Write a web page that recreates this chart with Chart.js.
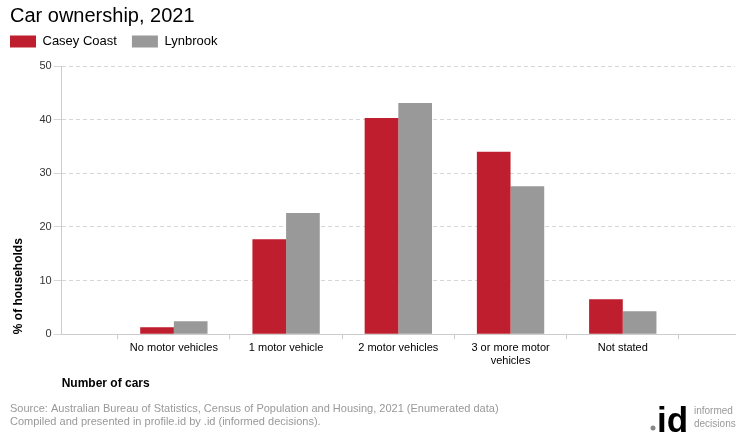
<!DOCTYPE html>
<html><head><meta charset="utf-8">
<script src="https://cdn.jsdelivr.net/npm/chart.js@4/dist/chart.umd.min.js"></script>
<style>html,body{margin:0;padding:0;background:#fff}#wrap{width:740px;height:440px;position:relative}</style>
</head><body><div id="wrap"><canvas id="c" width="740" height="440"></canvas></div>
<script>
const categories = ["", "No motor vehicles", "1 motor vehicle", "2 motor vehicles", ["3 or more motor", "vehicles"], "Not stated", ""];
const caseyCoast = [null, 1.3, 17.7, 40.3, 34.0, 6.5, null];
const lynbrook = [null, 2.4, 22.6, 43.1, 27.6, 4.3, null];
const yTicks = [0, 10, 20, 30, 40, 50];

const FONT = "'Liberation Sans', Arial, sans-serif";

const footer = {
  id: 'footer',
  beforeDraw(chart) {
    // fine placement of the legend row
    if (chart.legend && !chart.legend._moved) {
      chart.legend.left -= 15;
      chart.legend.top -= 8;
      chart.legend._moved = true;
    }
  },
  afterDraw(chart) {
    const ctx = chart.ctx;
    ctx.save();
    ctx.textBaseline = 'alphabetic';
    ctx.textAlign = 'left';
    ctx.fillStyle = '#999';
    ctx.font = "11px " + FONT;
    ctx.fillText("Source: Australian Bureau of Statistics, Census of Population and Housing, 2021 (Enumerated data)", 10, 412);
    ctx.fillText("Compiled and presented in profile.id by .id (informed decisions).", 10, 425);
    ctx.fillStyle = '#888';
    ctx.beginPath(); ctx.arc(653, 428, 2.5, 0, Math.PI * 2); ctx.fill();
    ctx.fillStyle = '#000';
    ctx.font = "bold 35px " + FONT;
    ctx.fillText("id", 657, 432);
    ctx.fillStyle = '#999';
    ctx.font = "10px " + FONT;
    ctx.fillText("informed", 694, 414);
    ctx.fillText("decisions", 694, 427);
    ctx.restore();
  }
};

new Chart(document.getElementById('c'), {
  type: 'bar',
  data: {
    labels: categories,
    datasets: [
      { label: 'Casey Coast', data: caseyCoast, backgroundColor: '#BE1E2D', borderWidth: 0 },
      { label: 'Lynbrook', data: lynbrook, backgroundColor: '#999999', borderWidth: 0 }
    ]
  },
  options: {
    responsive: false,
    animation: false,
    devicePixelRatio: 1,
    layout: { padding: { left: 10, right: 5, top: 3, bottom: 49 } },
    datasets: { bar: { barPercentage: 1, categoryPercentage: 0.6 } },
    plugins: {
      tooltip: { enabled: false },
      title: {
        display: true, text: 'Car ownership, 2021', align: 'start', color: '#000',
        font: { family: FONT, size: 20, weight: 'normal' }, padding: { top: 1, bottom: 0 }
      },
      legend: {
        display: true, align: 'start',
        labels: {
          boxWidth: 26, boxHeight: 12, color: '#000', padding: 15,
          font: { family: FONT, size: 13 }
        }
      }
    },
    scales: {
      x: {
        offset: false,
        grid: { display: true, drawOnChartArea: false, drawTicks: true, tickLength: 5, color: '#ccc' },
        border: { display: true, color: '#ccc' },
        ticks: { color: '#000', font: { family: FONT, size: 11 }, maxRotation: 0, autoSkip: false, padding: 2 },
        title: { display: true, text: 'Number of cars', align: 'start', color: '#000',
          font: { family: FONT, size: 12, weight: 'bold' }, padding: { top: 7, bottom: 0 } }
      },
      y: {
        min: 0, max: 50,
        afterBuildTicks(axis) { axis.ticks = yTicks.map(v => ({ value: v })); },
        grid: { color: '#d6d6d6', tickLength: 8 },
        border: { display: true, color: '#ccc', dash: [4, 3] },
        ticks: { color: '#333', font: { family: FONT, size: 11 }, padding: 2 },
        title: { display: true, text: '% of households', align: 'start', color: '#000',
          font: { family: FONT, size: 12, weight: 'bold' }, padding: { top: 1, bottom: 12 } }
      }
    }
  },
  plugins: [footer]
});
</script></body></html>
